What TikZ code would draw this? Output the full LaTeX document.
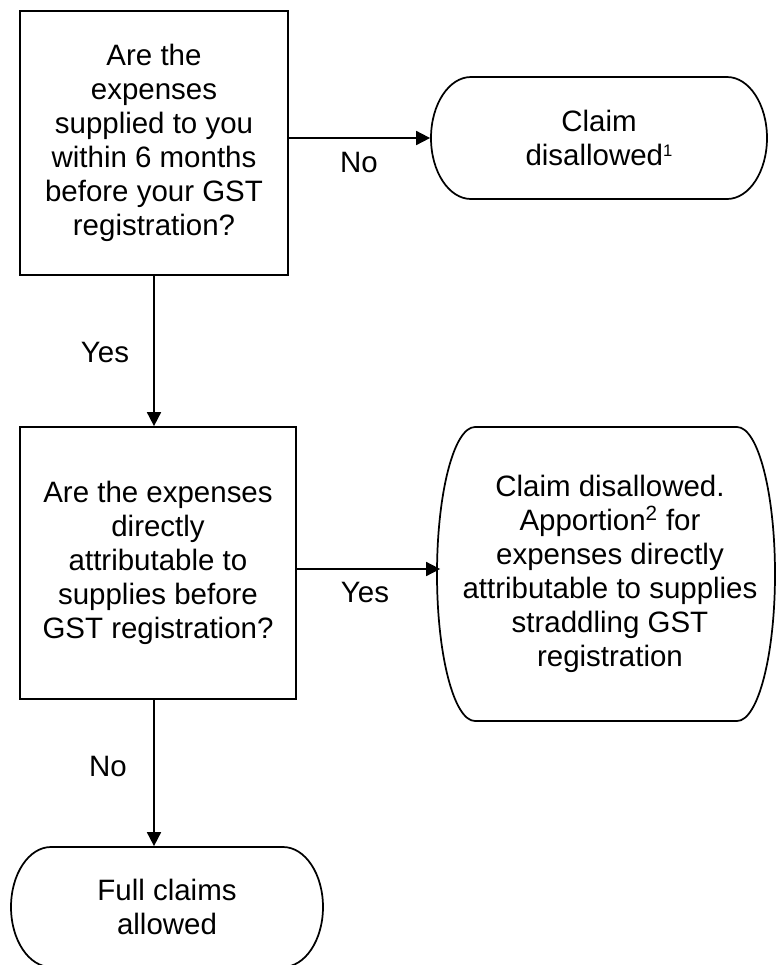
\documentclass[tikz,border=0pt]{standalone}
\usepackage{fontspec}
\setmainfont{Liberation Sans}
\usetikzlibrary{arrows.meta}

\begin{document}
\begin{tikzpicture}[x=0.75pt,y=0.75pt,yscale=-1,xscale=1,
  line width=1.3pt,
  every node/.style={font=\fontsize{22.1}{25.5}\selectfont},
  question/.style={draw, rectangle, align=center, inner sep=0pt},
  terminal/.style={align=center, inner sep=0pt},
  flowarrow/.style={-{Triangle[length=10.5pt,width=10.5pt]}}]
%set diagram left start at 0, and has height of 965
\useasboundingbox (0,0) rectangle (776,965);
\clip (0,0) rectangle (776,965);

%Shape: Rectangle [question 1]
\node[question, minimum width=201pt, minimum height=198pt] (q1) at (154,143) {Are the\\expenses\\supplied to you\\within 6 months\\before your GST\\registration?};
%Shape: Rectangle [question 2]
\node[question, minimum width=207pt, minimum height=204pt] (q2) at (158,563) {Are the expenses\\directly\\attributable to\\supplies before\\GST registration?};

%Shape: Terminator [disallowed]
\draw (471,77) -- (727,77) arc[start angle=-90,end angle=90,x radius=40,y radius=61] -- (471,199) arc[start angle=90,end angle=270,x radius=40,y radius=61] -- cycle;
\node[terminal, minimum width=252pt, minimum height=91.5pt] (t1) at (599,138) {Claim\\disallowed\raisebox{7pt}{\fontsize{12.5}{12.5}\selectfont 1}};
%Shape: Terminator [apportion]
\draw (475,427) -- (737,427) arc[start angle=-90,end angle=90,x radius=38,y radius=147] -- (475,721) arc[start angle=90,end angle=270,x radius=38,y radius=147] -- cycle;
\node[terminal, minimum width=253.5pt, minimum height=220.5pt] (t2) at (610,574) {Claim disallowed.\\Apportion\textsuperscript{2} for\\expenses directly\\attributable to supplies\\straddling GST\\registration};
%Shape: Terminator [allowed]
\draw (51,847) -- (283,847) arc[start angle=-90,end angle=90,x radius=40,y radius=60] -- (51,967) arc[start angle=90,end angle=270,x radius=40,y radius=60] -- cycle;
\node[terminal, minimum width=234pt, minimum height=90pt] (t3) at (167,907) {Full claims\\allowed};

%Straight Lines
\draw[flowarrow] (q1.east |- t1.west) -- (t1.west);
\draw[flowarrow] (q1.south) -- (q1.south |- q2.north);
\draw[flowarrow] ([yshift=4.5pt]q2.east) coordinate (c2) -- (c2 -| t2.west);
\draw[flowarrow] (q2.south -| q1.south) -- (q1.south |- t3.north);

% Text Node
\node (no1) at (359,163) {No};
% Text Node
\node (yes1) at (105,352) {Yes};
% Text Node
\node (yes2) at (365,592) {Yes};
% Text Node
\node (no2) at (108,766) {No};
\end{tikzpicture}
\end{document}
